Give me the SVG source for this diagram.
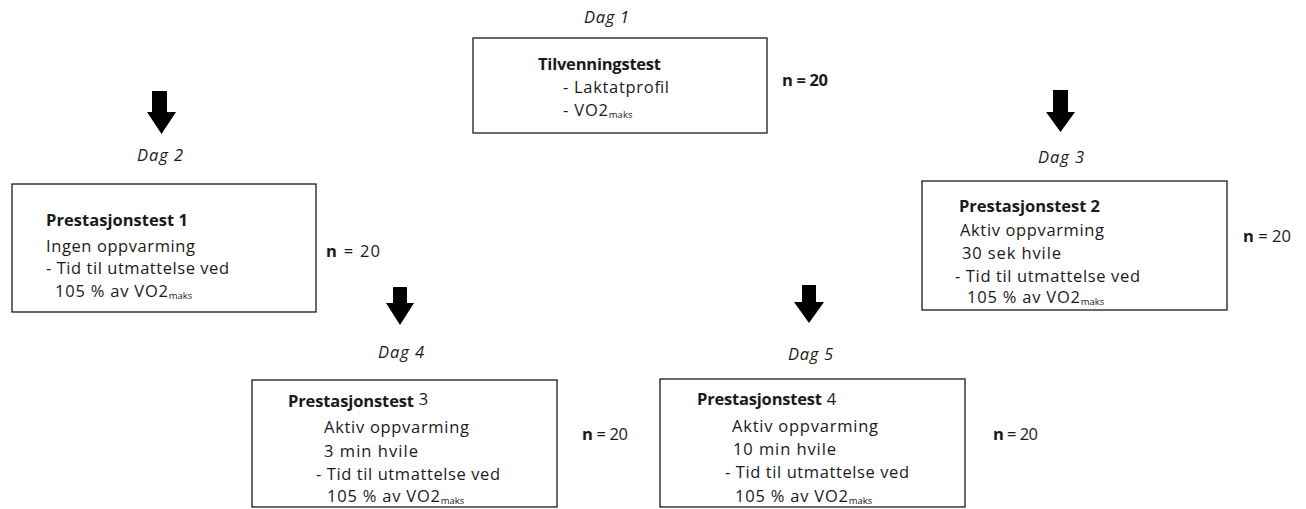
<svg xmlns="http://www.w3.org/2000/svg" width="1306" height="509" viewBox="0 0 1306 509">
<style>
text{font-family:"Open Sans","Liberation Sans",Arial,sans-serif;font-size:16.5px;fill:#1a1a1a}
.b{font-weight:bold}
.i{font-style:italic}
.sub{font-size:9.5px}
.box{fill:#fff;stroke:#1a1a1a;stroke-width:1.3}
.arr{fill:#000}
</style>
<rect width="1306" height="509" fill="#fff"/>
<g id="connectors">
<path class="arr" d="M152,91H167V112H176L161.5,134L147,112H152Z"/>
<path class="arr" d="M1053,90H1068V112H1075L1060.5,132L1046,112H1053Z"/>
<path class="arr" d="M393,287H407V303H414L400,325L386,303H393Z"/>
<path class="arr" d="M802,285H816V302H824L809,323L794,302H802Z"/>
</g>
<g id="dag1">
<text class="i" x="584" y="23" textLength="45">Dag 1</text>
<rect class="box" x="473" y="38" width="294" height="95"/>
<text class="b" x="538" y="70" textLength="123">Tilvenningstest</text>
<text x="563" y="93" textLength="106">- Laktatprofil</text>
<text x="563" y="116"><tspan textLength="45">- VO2</tspan><tspan class="sub" dy="2">maks</tspan></text>
<text class="b" x="782" y="86" textLength="46">n = 20</text>
</g>
<g id="dag2">
<text class="i" x="137" y="161" textLength="46">Dag 2</text>
<rect class="box" x="12" y="184" width="304" height="128"/>
<text class="b" x="46" y="226" textLength="142">Prestasjonstest 1</text>
<text x="46" y="252" textLength="149">Ingen oppvarming</text>
<text x="46" y="274" textLength="183">- Tid til utmattelse ved</text>
<text x="55" y="297"><tspan textLength="113">105 % av VO2</tspan><tspan class="sub" dy="2">maks</tspan></text>
<text x="326" y="257" textLength="54"><tspan class="b">n</tspan> =  20</text>
</g>
<g id="dag3">
<text class="i" x="1038" y="163" textLength="46">Dag 3</text>
<rect class="box" x="922" y="181" width="305" height="129"/>
<text class="b" x="959" y="212" textLength="141">Prestasjonstest 2</text>
<text x="960" y="236" textLength="144">Aktiv oppvarming</text>
<text x="962" y="259" textLength="99">30 sek hvile</text>
<text x="955" y="282" textLength="185">- Tid til utmattelse ved</text>
<text x="967" y="303"><tspan textLength="113">105 % av VO2</tspan><tspan class="sub" dy="2">maks</tspan></text>
<text x="1243" y="242" textLength="48"><tspan class="b">n</tspan> = 20</text>
</g>
<g id="dag4">
<text class="i" x="378" y="358" textLength="46">Dag 4</text>
<rect class="box" x="252" y="380" width="305" height="127"/>
<text x="288" y="407"><tspan class="b" textLength="126">Prestasjonstest</tspan><tspan dx="5" dy="-2">3</tspan></text>
<text x="324" y="433" textLength="145">Aktiv oppvarming</text>
<text x="324" y="457" textLength="94">3 min hvile</text>
<text x="316" y="480" textLength="184">- Tid til utmattelse ved</text>
<text x="327" y="502"><tspan textLength="113">105 % av VO2</tspan><tspan class="sub" dy="2">maks</tspan></text>
<text x="582" y="440" textLength="46"><tspan class="b">n</tspan> = 20</text>
</g>
<g id="dag5">
<text class="i" x="788" y="360" textLength="45">Dag 5</text>
<rect class="box" x="660" y="379" width="305" height="128"/>
<text x="697" y="405"><tspan class="b" textLength="125">Prestasjonstest</tspan><tspan dx="5">4</tspan></text>
<text x="732" y="432" textLength="146">Aktiv oppvarming</text>
<text x="733" y="455" textLength="103">10 min hvile</text>
<text x="725" y="478" textLength="184">- Tid til utmattelse ved</text>
<text x="735" y="502"><tspan textLength="113">105 % av VO2</tspan><tspan class="sub" dy="2">maks</tspan></text>
<text x="993" y="440" textLength="45"><tspan class="b">n</tspan> = 20</text>
</g>
</svg>
